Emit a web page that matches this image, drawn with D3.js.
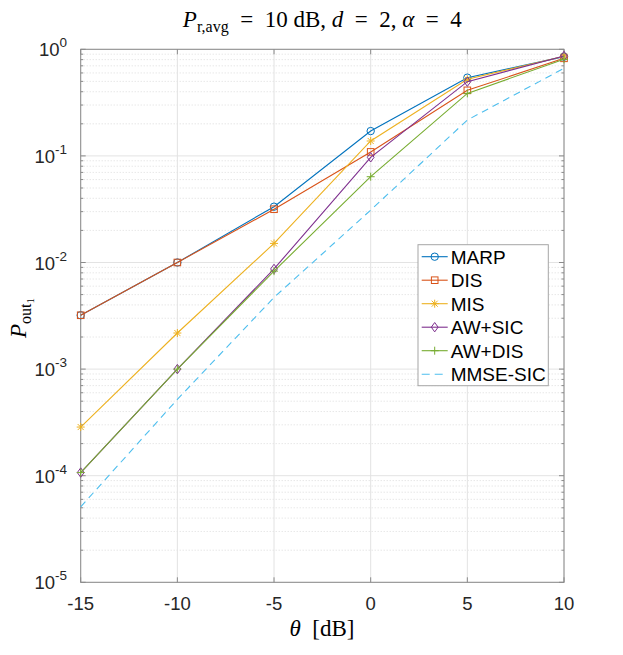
<!DOCTYPE html>
<html>
<head>
<meta charset="utf-8">
<script src="https://cdn.jsdelivr.net/npm/d3@7"></script>
<style>
  body { margin: 0; background: #fff; }
  svg { display: block; }
  .tick-label { font-family: "Liberation Sans", Arial, sans-serif; font-size: 18.5px; fill: #262626; }
  .legend-label { font-family: "Liberation Sans", Arial, sans-serif; font-size: 19px; fill: #000; }
  .latex { font-family: "Liberation Serif", "DejaVu Serif", serif; fill: #000; }
</style>
</head>
<body>
<svg width="623" height="655"></svg>
<script>
// x values (theta in dB)
const theta = [-15, -10, -5, 0, 5, 10]

// series
const marp = [3.2e-3, 1.0e-2, 0.0334, 0.171, 0.542, 0.853]
const dis = [3.2e-3, 1.0e-2, 0.0316, 0.109, 0.412, 0.823]
const mis = [2.86e-4, 2.18e-3, 0.0151, 0.138, 0.523, 0.86]
const awSic = [1.07e-4, 1.0e-3, 8.7e-3, 0.097, 0.497, 0.865]
const awDis = [1.07e-4, 1.0e-3, 8.3e-3, 0.0638, 0.386, 0.806]
const mmseSic = [5.1e-5, 5.2e-4, 4.7e-3, 0.031, 0.217, 0.663]

const seriesNames = ['MARP', 'DIS', 'MIS', 'AW+SIC', 'AW+DIS', 'MMSE-SIC']
const seriesColors = ['#0072BD', '#D95319', '#EDB120', '#7E2F8E', '#77AC30', '#4DBEEE']
const seriesMarkers = ['circle', 'square', 'asterisk', 'diamond', 'plus', 'none']

// tick values
const xTicks = [-15, -10, -5, 0, 5, 10]
const yExponents = [0, -1, -2, -3, -4, -5]

const seriesValues = [marp, dis, mis, awSic, awDis, mmseSic]

const svg = d3.select('svg')

// plot box
const box = {left: 80.7, right: 564, top: 49.3, bottom: 582.3}

const x = d3.scaleLinear()
.domain([-15, 10])
.range([box.left, box.right])

const y = d3.scaleLog()
.domain([1e-5, 1])
.range([box.bottom, box.top])

// grid
const grid = svg.append('g')

// minor y grid (dotted)
const minorVals = []
for (let e = -5; e < 0; e++) {
  for (let m = 2; m <= 9; m++) minorVals.push(m * Math.pow(10, e))
}

grid
.selectAll('.minor')
.data(minorVals)
.enter()
.append('line')
.attr('x1', box.left)
.attr('x2', box.right)
.attr('y1', d => y(d))
.attr('y2', d => y(d))
.attr('stroke', '#d4d4d4')
.attr('stroke-width', 0.8)
.attr('stroke-dasharray', '1,2')

// major y grid
grid
.selectAll('.majorY')
.data(yExponents)
.enter()
.append('line')
.attr('x1', box.left)
.attr('x2', box.right)
.attr('y1', d => y(Math.pow(10, d)))
.attr('y2', d => y(Math.pow(10, d)))
.attr('stroke', '#e3e3e3')
.attr('stroke-width', 1)

// major x grid
grid
.selectAll('.majorX')
.data(xTicks)
.enter()
.append('line')
.attr('x1', d => x(d))
.attr('x2', d => x(d))
.attr('y1', box.top)
.attr('y2', box.bottom)
.attr('stroke', '#e3e3e3')
.attr('stroke-width', 1)

// axes box with inward ticks on all sides
const axes = svg.append('g')

axes
.append('rect')
.attr('x', box.left)
.attr('y', box.top)
.attr('width', box.right - box.left)
.attr('height', box.bottom - box.top)
.attr('fill', 'none')
.attr('stroke', '#8a8a8a')
.attr('stroke-width', 1)

xTicks.forEach(t => {
  axes.append('line')
  .attr('x1', x(t)).attr('x2', x(t))
  .attr('y1', box.bottom).attr('y2', box.bottom - 5)
  .attr('stroke', '#8a8a8a')
  axes.append('line')
  .attr('x1', x(t)).attr('x2', x(t))
  .attr('y1', box.top).attr('y2', box.top + 5)
  .attr('stroke', '#8a8a8a')
})

yExponents.forEach(e => {
  const yy = y(Math.pow(10, e))
  axes.append('line')
  .attr('x1', box.left).attr('x2', box.left + 5)
  .attr('y1', yy).attr('y2', yy)
  .attr('stroke', '#8a8a8a')
  axes.append('line')
  .attr('x1', box.right).attr('x2', box.right - 5)
  .attr('y1', yy).attr('y2', yy)
  .attr('stroke', '#8a8a8a')
})

minorVals.forEach(v => {
  const yy = y(v)
  axes.append('line')
  .attr('x1', box.left).attr('x2', box.left + 2.5)
  .attr('y1', yy).attr('y2', yy)
  .attr('stroke', '#8a8a8a')
  axes.append('line')
  .attr('x1', box.right).attr('x2', box.right - 2.5)
  .attr('y1', yy).attr('y2', yy)
  .attr('stroke', '#8a8a8a')
})

// x tick labels
svg
.selectAll('.xlab')
.data(xTicks)
.enter()
.append('text')
.attr('class', 'tick-label')
.attr('x', d => x(d))
.attr('y', 610)
.attr('text-anchor', 'middle')
.text(d => d)

// y tick labels 10^e
yExponents.forEach(e => {
  const t = svg.append('text')
  .attr('class', 'tick-label')
  .attr('x', 67)
  .attr('y', y(Math.pow(10, e)) + 7)
  .attr('text-anchor', 'end')
  t.append('tspan').text('10')
  t.append('tspan')
  .attr('dy', -9)
  .attr('font-size', '13.5px')
  .text(e)
})

// marker drawing
const drawMarker = (sel, type, color) => {
  if (type === 'circle') {
    sel.append('circle').attr('r', 3.7)
    .attr('fill', 'none').attr('stroke', color).attr('stroke-width', 1)
  } else if (type === 'square') {
    sel.append('rect').attr('x', -3.3).attr('y', -3.3).attr('width', 6.6).attr('height', 6.6)
    .attr('fill', 'none').attr('stroke', color).attr('stroke-width', 1)
  } else if (type === 'diamond') {
    sel.append('path').attr('d', 'M0,-4.7L3.4,0L0,4.7L-3.4,0Z')
    .attr('fill', 'none').attr('stroke', color).attr('stroke-width', 1)
  } else if (type === 'plus') {
    sel.append('path').attr('d', 'M-4,0H4M0,-4V4')
    .attr('stroke', color).attr('stroke-width', 1)
  } else if (type === 'asterisk') {
    sel.append('path').attr('d', 'M-4,0H4M0,-4V4M-3,-3L3,3M-3,3L3,-3')
    .attr('stroke', color).attr('stroke-width', 1)
  }
}

const line = d3.line()
.x(d => x(d[0]))
.y(d => y(d[1]))

const plot = svg.append('g')

seriesValues.forEach((vals, i) => {
  const pts = theta.map((t, j) => [t, vals[j]])
  plot
  .append('path')
  .datum(pts)
  .attr('d', line)
  .attr('fill', 'none')
  .attr('stroke', seriesColors[i])
  .attr('stroke-width', 1.1)
  .attr('stroke-dasharray', seriesMarkers[i] === 'none' ? '7,5' : null)

  if (seriesMarkers[i] !== 'none') {
    pts.forEach(p => {
      const m = plot.append('g')
      .attr('transform', `translate(${x(p[0])}, ${y(p[1])})`)
      drawMarker(m, seriesMarkers[i], seriesColors[i])
    })
  }
})

// legend
const legend = svg.append('g')

legend
.append('rect')
.attr('x', 418)
.attr('y', 244.7)
.attr('width', 130.3)
.attr('height', 141)
.attr('fill', '#fff')
.attr('stroke', '#a6a6a6')
.attr('stroke-width', 1)

seriesNames.forEach((name, i) => {
  const ly = 256.7 + i * 23.5
  legend.append('line')
  .attr('x1', 421.7).attr('x2', 447.7)
  .attr('y1', ly).attr('y2', ly)
  .attr('stroke', seriesColors[i])
  .attr('stroke-width', 1.1)
  .attr('stroke-dasharray', seriesMarkers[i] === 'none' ? '8,5' : null)
  const m = legend.append('g').attr('transform', `translate(434.7, ${ly})`)
  drawMarker(m, seriesMarkers[i], seriesColors[i])
  legend.append('text')
  .attr('class', 'legend-label')
  .attr('x', 450.7)
  .attr('y', ly + 7)
  .text(name)
})

// title
const title = svg.append('text')
.attr('class', 'latex')
.attr('x', 322.3)
.attr('y', 27)
.attr('text-anchor', 'middle')
.attr('font-size', '23px')
.attr('xml:space', 'preserve')

title.append('tspan').attr('font-style', 'italic').text('P')
title.append('tspan').attr('dy', 5).attr('font-size', '16px').text('r,avg')
title.append('tspan').attr('dy', -5).text('  =  10 dB, ')
title.append('tspan').attr('font-style', 'italic').text('d')
title.append('tspan').text('  =  2, ')
title.append('tspan').attr('font-style', 'italic').text('α')
title.append('tspan').text('  =  4')

// x label
const xLabel = svg.append('text')
.attr('class', 'latex')
.attr('x', 322)
.attr('y', 636)
.attr('text-anchor', 'middle')
.attr('font-size', '23px')
.attr('xml:space', 'preserve')

xLabel.append('tspan').attr('font-style', 'italic').text('θ')
xLabel.append('tspan').text('  [dB]')

// y label
const yLabel = svg.append('text')
.attr('class', 'latex')
.attr('transform', 'translate(26, 318) rotate(-90)')
.attr('text-anchor', 'middle')
.attr('font-size', '23px')

yLabel.append('tspan').attr('font-style', 'italic').text('P')
yLabel.append('tspan').attr('dy', 5).attr('font-size', '16px').text('out')
yLabel.append('tspan').attr('dy', 3).attr('font-size', '11px').text('1')
</script>
</body>
</html>
